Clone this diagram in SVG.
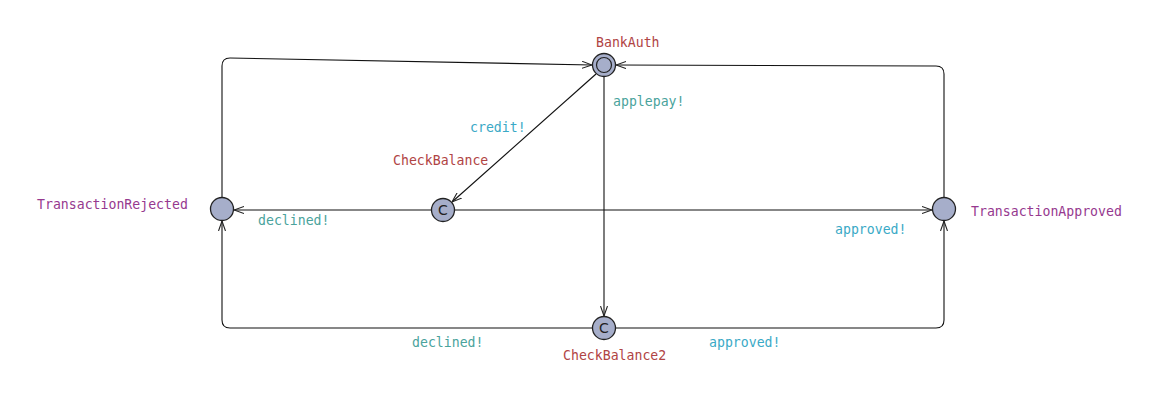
<svg xmlns="http://www.w3.org/2000/svg" width="1158" height="420" viewBox="0 0 1158 420">
<defs>
<marker id="arr" viewBox="0 0 10 8" refX="10" refY="4" markerWidth="10" markerHeight="8" markerUnits="userSpaceOnUse" orient="auto">
<path d="M0,0.5 L10,4 L0,7.5" fill="none" stroke="#222" stroke-width="1.1"/>
</marker>
<style>
.edge{fill:none;stroke:#111;stroke-width:1.1;marker-end:url(#arr)}
.loc{fill:#a6aeca;stroke:#222;stroke-width:1.3}
text{font-family:"DejaVu Sans Mono","Liberation Mono",monospace;font-size:13.2px}
.nm{fill:#b04444}
.nm2{fill:#96398f}
.sync{fill:#4aa39c}
.sync2{fill:#3aa9c6}
.c{fill:#222;text-anchor:middle;font-family:"DejaVu Sans","Liberation Sans",sans-serif;font-size:14px}
</style>
</defs>
<rect width="1158" height="420" fill="#fff"/>
<g id="connectors">
<path class="edge" d="M222,197 L222,66 Q222,58 230,58 L592,65"/>
<path class="edge" d="M944,197 L944,74 Q944,66 936,66 L616,65"/>
<path class="edge" d="M596,74 L452,202"/>
<path class="edge" d="M604,77 L604,316"/>
<path class="edge" d="M431,210 L234,210"/>
<path class="edge" d="M455,210 L932,210"/>
<path class="edge" d="M592,328 L230,328 Q222,328 222,320 L222,221"/>
<path class="edge" d="M616,328 L936,328 Q944,328 944,320 L944,221"/>
<text class="sync" x="613" y="106">applepay!</text>
<text class="sync2" x="470" y="132">credit!</text>
<text class="sync" x="258" y="225">declined!</text>
<text class="sync2" x="835" y="234">approved!</text>
<text class="sync" x="412" y="347">declined!</text>
<text class="sync2" x="709" y="347">approved!</text>
</g>
<g id="BankAuth">
<circle class="loc" cx="604" cy="65" r="11.5"/>
<circle cx="604" cy="65" r="7.5" fill="none" stroke="#222" stroke-width="1.2"/>
<text class="nm" x="596" y="47">BankAuth</text>
</g>
<g id="CheckBalance">
<circle class="loc" cx="443" cy="210" r="11.5"/>
<text class="c" x="443" y="215">C</text>
<text class="nm" x="393" y="165">CheckBalance</text>
</g>
<g id="TransactionRejected">
<circle class="loc" cx="222" cy="209" r="11.5"/>
<text class="nm2" x="37" y="209">TransactionRejected</text>
</g>
<g id="TransactionApproved">
<circle class="loc" cx="944" cy="209" r="11.5"/>
<text class="nm2" x="971" y="216">TransactionApproved</text>
</g>
<g id="CheckBalance2">
<circle class="loc" cx="604" cy="328" r="11.5"/>
<text class="c" x="604" y="333">C</text>
<text class="nm" x="563" y="360">CheckBalance2</text>
</g>
</svg>
